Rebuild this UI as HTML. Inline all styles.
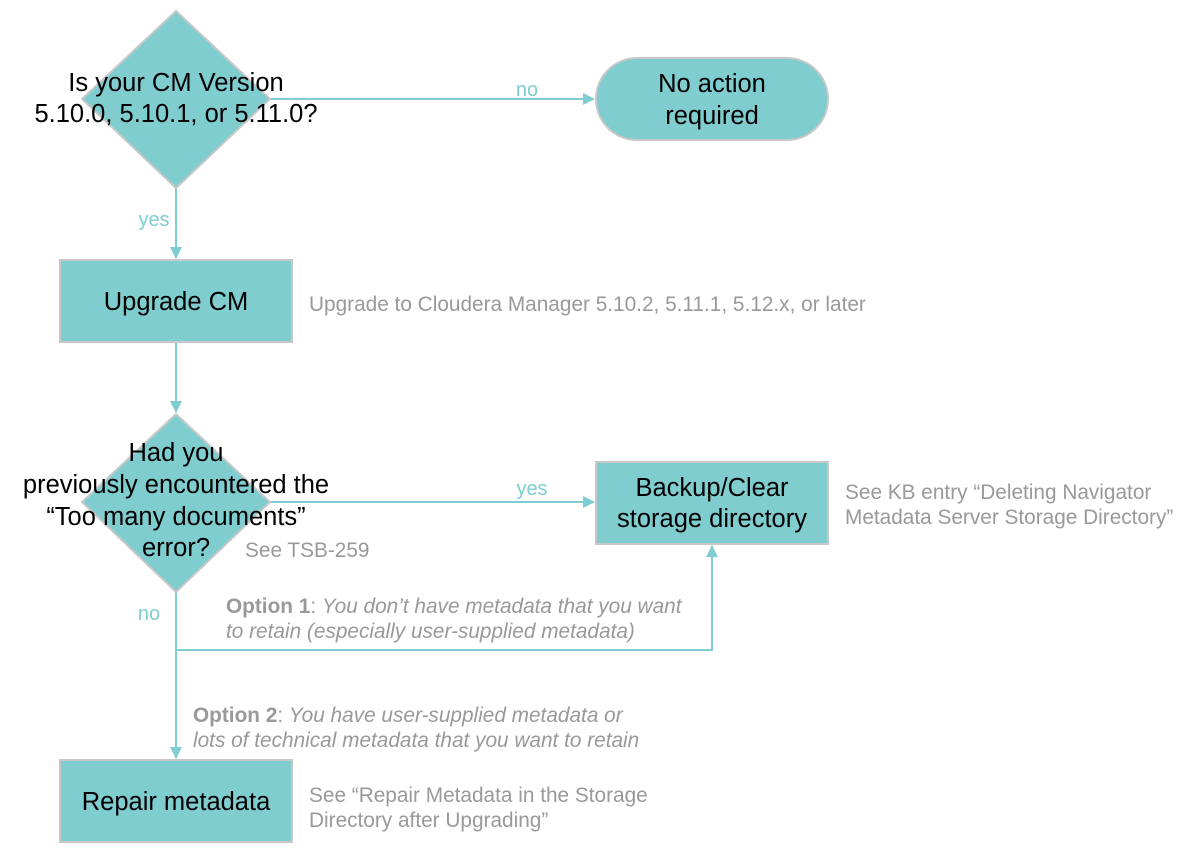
<!DOCTYPE html>
<html><head><meta charset="utf-8"><style>
body{margin:0;background:#fff;width:1187px;height:862px;overflow:hidden;font-family:"Liberation Sans",Arial,sans-serif}
svg{position:absolute;left:0;top:0}
</style></head><body>
<svg width="1187" height="862" viewBox="0 0 1187 862" font-family="Liberation Sans, Arial, sans-serif">
<defs><marker id="a" markerWidth="12" markerHeight="12" refX="11" refY="6" orient="auto" markerUnits="userSpaceOnUse"><path d="M0,0 L12,6 L0,12 z" fill="#7ecdd0"/></marker></defs>
<g stroke="#7ecdd0" stroke-width="2" fill="none">
<line x1="270" y1="99" x2="594" y2="99" marker-end="url(#a)"/>
<line x1="176" y1="188" x2="176" y2="258" marker-end="url(#a)"/>
<line x1="176" y1="342" x2="176" y2="412" marker-end="url(#a)"/>
<line x1="270" y1="502" x2="594" y2="502" marker-end="url(#a)"/>
<line x1="176" y1="592" x2="176" y2="758" marker-end="url(#a)"/>
<polyline points="176,650 712,650 712,546" marker-end="url(#a)"/>
</g>
<g fill="#7fcdcf" stroke="#c8c8c8" stroke-width="2">
<polygon points="176,11 270,99 176,188 82,99"/>
<polygon points="176,414 270,502 176,592 82,502"/>
<rect x="60" y="260" width="232" height="82"/>
<rect x="596" y="58" width="232" height="82" rx="41"/>
<rect x="596" y="462" width="232" height="82"/>
<rect x="60" y="760" width="232" height="82"/>
</g>
<g font-size="25.5" fill="#000" text-anchor="middle">
<text x="176" y="91">Is your CM Version</text>
<text x="176" y="122">5.10.0, 5.10.1, or 5.11.0?</text>
<text x="176" y="310">Upgrade CM</text>
<text x="712" y="92">No action</text>
<text x="712" y="124">required</text>
<text x="176" y="461">Had you</text>
<text x="176" y="493">previously encountered the</text>
<text x="176" y="525">“Too many documents”</text>
<text x="176" y="556">error?</text>
<text x="712" y="496">Backup/Clear</text>
<text x="712" y="527">storage directory</text>
<text x="176" y="810">Repair metadata</text>
</g>
<g font-size="20" fill="#7ecdd0" text-anchor="middle">
<text x="527" y="96">no</text>
<text x="154" y="226">yes</text>
<text x="532" y="495">yes</text>
<text x="149" y="620">no</text>
</g>
<g font-size="20.8" fill="#999">
<text x="309" y="311">Upgrade to Cloudera Manager 5.10.2, 5.11.1, 5.12.x, or later</text>
<text x="245" y="557">See TSB-259</text>
<text x="845" y="499">See KB entry “Deleting Navigator</text>
<text x="845" y="524">Metadata Server Storage Directory”</text>
<text x="226" y="613"><tspan font-weight="bold">Option 1</tspan>: <tspan font-style="italic">You don’t have metadata that you want</tspan></text>
<text x="226" y="638" font-style="italic">to retain (especially user-supplied metadata)</text>
<text x="193" y="722"><tspan font-weight="bold">Option 2</tspan>: <tspan font-style="italic">You have user-supplied metadata or</tspan></text>
<text x="193" y="747" font-style="italic">lots of technical metadata that you want to retain</text>
<text x="309" y="802">See “Repair Metadata in the Storage</text>
<text x="309" y="827">Directory after Upgrading”</text>
</g>
</svg>
</body></html>
